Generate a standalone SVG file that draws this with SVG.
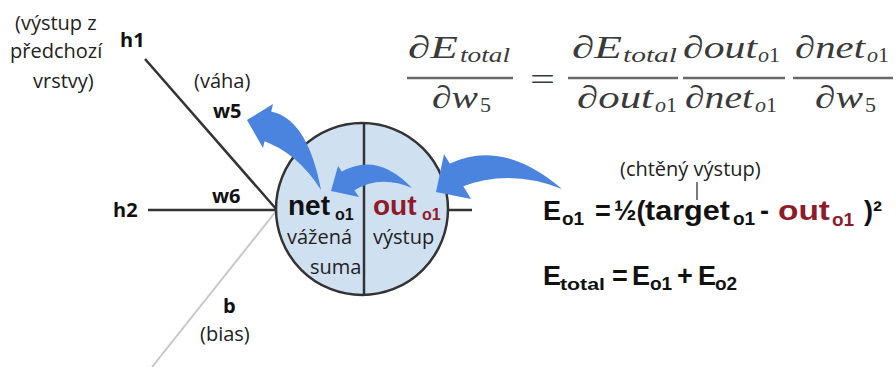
<svg xmlns="http://www.w3.org/2000/svg" width="896" height="367" viewBox="0 0 896 367">
<style>
.lbl{font-family:"Open Sans","Liberation Sans",sans-serif;font-size:20px;fill:#222}
.lblb{font-family:"Open Sans","Liberation Sans",sans-serif;font-size:20px;font-weight:bold;fill:#111}
.eq{font-family:"Liberation Sans",Arial,sans-serif;font-weight:bold;fill:#111}
.big{font-size:27px}
.sub{font-size:19px}
.red{fill:#8e1b2b}
.tex{font-family:"Liberation Serif","Times New Roman",serif;font-style:italic;fill:#3a3a3a;font-size:32px}
.texs{font-family:"Liberation Serif","Times New Roman",serif;font-style:italic;fill:#3a3a3a;font-size:22px}
.up{font-style:normal}
.bar{stroke:#6a6a6a;stroke-width:2.5}
.wire{stroke:#333;stroke-width:2.5;fill:none}
.arrow{fill:#4b84de}
</style>
<rect width="896" height="367" fill="#fff"/>

<g id="connectors">
  <line class="wire" x1="145" y1="59" x2="277" y2="210"/>
  <line class="wire" x1="148" y1="210" x2="277" y2="210"/>
  <line x1="277" y1="210" x2="152" y2="367" stroke="#c8c8c8" stroke-width="2"/>
  <line class="wire" x1="448" y1="210" x2="472" y2="210"/>
</g>

<g id="h1">
  <text class="lbl" x="15" y="30">(výstup z</text>
  <text class="lbl" x="10" y="58">předchozí</text>
  <text class="lbl" x="33" y="88">vrstvy)</text>
  <text class="lblb" x="120" y="47">h1</text>
</g>
<g id="w5">
  <text class="lbl" x="194" y="88">(váha)</text>
  <text class="lblb" x="213" y="118">w5</text>
</g>
<g id="w6"><text class="lblb" x="212" y="203">w6</text></g>
<g id="h2"><text class="lblb" x="113" y="217">h2</text></g>
<g id="bias">
  <text class="lblb" x="223" y="313">b</text>
  <text class="lbl" x="200" y="341">(bias)</text>
</g>

<g id="neuron">
  <circle cx="362" cy="209" r="86" fill="#cfe0f1" stroke="#333" stroke-width="2.5"/>
  <line x1="364" y1="123" x2="364" y2="295" stroke="#333" stroke-width="2.5"/>
</g>

<g id="arrows">
  <polygon class="arrow" points="247,120 273,104 263,148"/>
  <path class="arrow" d="M268 111 Q307 116 321 190 Q297 152 261 140 Z"/>
  <polygon class="arrow" points="331,191 338,166 359,197"/>
  <path class="arrow" d="M341 172 Q377 151 412 188 Q380 174 353 191 Z"/>
  <polygon class="arrow" points="436,192 444,154 471,199"/>
  <path class="arrow" d="M449 164 Q502 138 562 189 Q510 168 461 187 Z"/>
</g>

<g id="neuron-text">
  <text class="eq" x="288" y="215" font-size="28">net</text>
  <text class="eq" x="335" y="220" font-size="16">o1</text>
  <text class="eq red" x="373" y="215" font-size="28">out</text>
  <text class="eq red" x="422" y="220" font-size="16">o1</text>
  <text class="lbl" x="287" y="244">vážená</text>
  <text class="lbl" x="310" y="274">suma</text>
  <text class="lbl" x="373" y="244">výstup</text>
</g>

<g id="chain-rule">
  <text class="tex" x="408" y="58" textLength="50" lengthAdjust="spacingAndGlyphs">∂E</text>
  <text class="texs" x="460" y="62" textLength="50" lengthAdjust="spacingAndGlyphs">total</text>
  <line class="bar" x1="407" y1="78" x2="513" y2="78"/>
  <text class="tex" x="432" y="108" textLength="46" lengthAdjust="spacingAndGlyphs">∂w</text>
  <text class="texs up" x="480" y="112">5</text>

  <text class="tex up" x="530" y="90" textLength="25" lengthAdjust="spacingAndGlyphs">=</text>

  <text class="tex" x="572" y="58" textLength="50" lengthAdjust="spacingAndGlyphs">∂E</text>
  <text class="texs" x="623" y="62" textLength="54" lengthAdjust="spacingAndGlyphs">total</text>
  <line class="bar" x1="568" y1="78" x2="678" y2="78"/>
  <text class="tex" x="577" y="108" textLength="76" lengthAdjust="spacingAndGlyphs">∂out</text>
  <text class="texs" x="655" y="112">o<tspan class="up">1</tspan></text>

  <text class="tex" x="683" y="58" textLength="74" lengthAdjust="spacingAndGlyphs">∂out</text>
  <text class="texs" x="758" y="62">o<tspan class="up">1</tspan></text>
  <line class="bar" x1="683" y1="78" x2="785" y2="78"/>
  <text class="tex" x="685" y="108" textLength="68" lengthAdjust="spacingAndGlyphs">∂net</text>
  <text class="texs" x="755" y="112">o<tspan class="up">1</tspan></text>

  <text class="tex" x="795" y="58" textLength="70" lengthAdjust="spacingAndGlyphs">∂net</text>
  <text class="texs" x="867" y="62">o<tspan class="up">1</tspan></text>
  <line class="bar" x1="793" y1="78" x2="893" y2="78"/>
  <text class="tex" x="815" y="108" textLength="48" lengthAdjust="spacingAndGlyphs">∂w</text>
  <text class="texs up" x="865" y="112">5</text>
</g>

<g id="error-eq">
  <text class="lbl" x="620" y="176">(chtěný výstup)</text>
  <line x1="697" y1="182" x2="697" y2="200" stroke="#222" stroke-width="1.2"/>
  <text class="eq big" x="543" y="220">E</text>
  <text class="eq sub" x="562" y="225">o1</text>
  <text class="eq big" x="595" y="220">=</text>
  <text class="eq big" x="614" y="220">½(</text>
  <text class="eq big" x="645" y="220" textLength="85" lengthAdjust="spacingAndGlyphs">target</text>
  <text class="eq sub" x="733" y="225">o1</text>
  <text class="eq big" x="760" y="220">-</text>
  <text class="eq big red" x="778" y="220" textLength="52" lengthAdjust="spacingAndGlyphs">out</text>
  <text class="eq sub red" x="832" y="226">o1</text>
  <text class="eq big" x="864" y="220">)²</text>
</g>

<g id="total-eq">
  <text class="eq big" x="543" y="285">E</text>
  <text class="eq" x="560" y="290" font-size="17" textLength="45" lengthAdjust="spacingAndGlyphs">total</text>
  <text class="eq big" x="612" y="285">=</text>
  <text class="eq big" x="632" y="285">E</text>
  <text class="eq sub" x="650" y="290">o1</text>
  <text class="eq big" x="677" y="285">+</text>
  <text class="eq big" x="698" y="285">E</text>
  <text class="eq sub" x="715" y="290">o2</text>
</g>
</svg>
